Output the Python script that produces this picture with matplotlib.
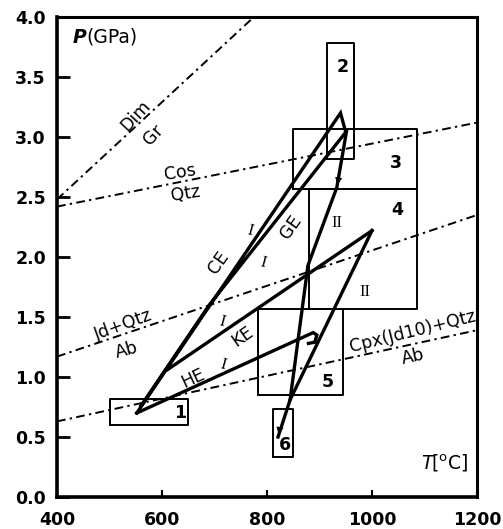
import matplotlib
matplotlib.use("Agg")
import matplotlib.pyplot as plt

plt.rcParams['font.family'] = ['DejaVu Sans']

# ---------------- data ----------------
x_ticks = [400, 600, 800, 1000, 1200]
y_ticks = [0.0, 0.5, 1.0, 1.5, 2.0, 2.5, 3.0, 3.5, 4.0]

# reaction lines (T1, T2) / (P1, P2)
rxn_names = ["Dim/Gr", "Cos/Qtz", "Jd+Qtz/Ab", "Cpx(Jd10)+Qtz/Ab"]
rxn_T = [(400, 775), (400, 1200), (400, 1200), (400, 1200)]
rxn_P = [(2.48, 4.0), (2.42, 3.12), (1.17, 2.35), (0.63, 1.39)]

# boxes (P-T estimates)
box_labels = ["1", "2", "3", "4", "5", "6"]
box_Tmin = [500, 915, 850, 880, 783, 812]
box_Tmax = [650, 965, 1085, 1085, 945, 850]
box_Pmin = [0.60, 2.82, 2.57, 1.57, 0.85, 0.33]
box_Pmax = [0.82, 3.78, 3.07, 2.57, 1.57, 0.73]
box_label_T = [634, 945, 1046, 1048, 916, 834]
box_label_P = [0.70, 3.58, 2.78, 2.39, 0.96, 0.43]

# P-T paths
ce_ge_T = [552, 940, 950, 690, 560]
ce_ge_P = [0.70, 3.20, 3.04, 1.60, 0.76]
ke_T = [610, 1000]
ke_P = [1.06, 2.22]
he_T = [552, 888, 895, 891, 879]
he_P = [0.70, 1.37, 1.35, 1.29, 1.28]
retro1_T = [952, 933, 878, 844, 821]
retro1_P = [3.06, 2.58, 1.93, 0.81, 0.50]
retro2_T = [1000, 844]
retro2_P = [2.22, 0.81]

# ---------------- figure ----------------
fig = plt.figure(figsize=(5.03, 5.29), dpi=100)
ax = fig.add_axes([57/503, 32/529, 420/503, 480/529])
ax.set_xlim(400, 1200)
ax.set_ylim(0, 4.0)

dashdot = (0, (4.5, 2.2, 1.2, 2.2))
for (t1, t2), (p1, p2) in zip(rxn_T, rxn_P):
    ax.plot([t1, t2], [p1, p2], color='k', lw=1.4, linestyle=dashdot, zorder=2)

for tmin, tmax, pmin, pmax in zip(box_Tmin, box_Tmax, box_Pmin, box_Pmax):
    ax.plot([tmin, tmax, tmax, tmin, tmin], [pmin, pmin, pmax, pmax, pmin],
            color='k', lw=1.4, zorder=3)
for lab, t, p in zip(box_labels, box_label_T, box_label_P):
    ax.text(t, p, lab, fontsize=12.5, fontweight='bold', ha='center', va='center')

path_kw = dict(color='k', lw=2.4, solid_joinstyle='miter', zorder=4)
ax.plot(ce_ge_T, ce_ge_P, **path_kw)
ax.plot(ke_T, ke_P, **path_kw)
ax.plot(he_T, he_P, **path_kw)
ax.plot(retro1_T, retro1_P, **path_kw)
ax.plot(retro2_T, retro2_P, **path_kw)

# arrow heads
ax.annotate('', xy=(retro1_T[1], retro1_P[1]), xytext=(945, 2.85),
            arrowprops=dict(arrowstyle='-|>', lw=0.01, color='k', mutation_scale=13))
ax.annotate('', xy=(retro1_T[4], retro1_P[4]), xytext=(830, 0.70),
            arrowprops=dict(arrowstyle='-|>', lw=0.01, color='k', mutation_scale=13))

# reaction labels
tk = dict(fontsize=12.5, ha='center', va='center')
ax.text(549, 3.18, 'Dim', rotation=47, **tk)
ax.text(583, 3.02, 'Gr', rotation=47, **tk)
ax.text(634, 2.70, 'Cos', rotation=9, **tk)
ax.text(644, 2.53, 'Qtz', rotation=9, **tk)
ax.text(526, 1.43, 'Jd+Qtz', rotation=20, **tk)
ax.text(533, 1.22, 'Ab', rotation=15, **tk)
ax.text(1078, 1.38, 'Cpx(Jd10)+Qtz', rotation=14, **tk)
ax.text(1079, 1.17, 'Ab', rotation=12, **tk)

# path labels
ax.text(708, 1.95, 'CE', rotation=55, **tk)
ax.text(846, 2.25, 'GE', rotation=55, **tk)
ax.text(754, 1.34, 'KE', rotation=35, **tk)
ax.text(659, 0.99, 'HE', rotation=25, **tk)
rk = dict(fontsize=12, ha='center', va='center', family='Liberation Serif')
ax.text(768, 2.22, 'I', rotation=-15, **rk)
ax.text(792, 1.95, 'I', rotation=-15, **rk)
ax.text(714, 1.46, 'I', rotation=-15, **rk)
ax.text(716, 1.10, 'I', rotation=-15, **rk)
ax.text(933, 2.28, 'II', **rk)
ax.text(987, 1.71, 'II', **rk)

# axis titles
ax.text(430, 3.83, 'P', fontsize=13.5, fontweight='bold', style='italic', ha='left', va='center')
ax.text(456, 3.83, '(GPa)', fontsize=13.5, ha='left', va='center')
ax.text(1093, 0.28, 'T', fontsize=13.5, style='italic', ha='left', va='center')
ax.text(1112, 0.28, '[$^{\\rm o}$C]', fontsize=13.5, ha='left', va='center')

# axes styling
ax.set_xticks(x_ticks)
ax.set_yticks(y_ticks)
ax.set_xticklabels([str(v) for v in x_ticks], fontsize=12.5, fontweight='bold')
ax.set_yticklabels(['%.1f' % v for v in y_ticks], fontsize=12.5, fontweight='bold')
ax.tick_params(axis='y', direction='in', length=9, width=2, pad=8)
ax.tick_params(axis='x', direction='in', length=5, width=1.5, pad=10)
for s in ['left', 'bottom']:
    ax.spines[s].set_linewidth(2.6)
for s in ['top', 'right']:
    ax.spines[s].set_linewidth(2.2)

fig.savefig('out.png', dpi=100)
